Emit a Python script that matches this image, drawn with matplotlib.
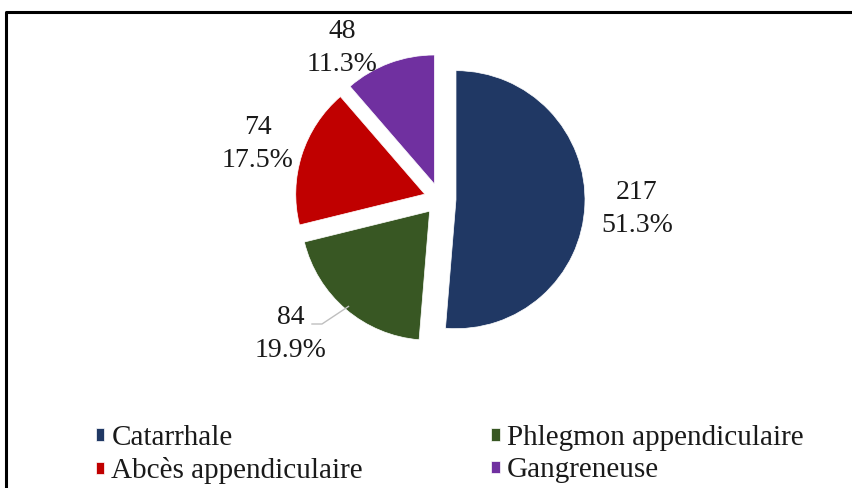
import numpy as np
import matplotlib.pyplot as plt
from matplotlib.lines import Line2D

# Data
categories = ["Catarrhale", "Phlegmon appendiculaire", "Abcès appendiculaire", "Gangreneuse"]
counts = [217, 84, 74, 48]
colors = ["#203864", "#385723", "#C00000", "#7030A0"]

W, H = 853, 488
plt.rcParams['font.family'] = ['Liberation Serif', 'DejaVu Serif']

fig = plt.figure(figsize=(W / 100, H / 100), dpi=100)
ax = fig.add_axes([0, 0, 1, 1])

# pie, center given in pixel-like units (y up); explode is in the same units
cx, cy, R = 440, H - 199, 129
total = sum(counts)
wedges, _ = ax.pie(counts, colors=colors, startangle=90, counterclock=False,
                   center=(cx, cy), radius=R, explode=[16] * len(counts),
                   wedgeprops=dict(linewidth=0.5, edgecolor='white'))
ax.set_xlim(0, W)
ax.set_ylim(0, H)
ax.set_aspect('equal')
ax.axis('off')

# data labels (image coords of label centres)
label_pos = [(637, 209), (291, 334), (258, 144), (342, 48)]
for n, (lx, ly) in zip(counts, label_pos):
    ax.text(lx, H - ly, "{}\n{:.1f}%".format(n, 100 * n / total), ha='center', va='center',
            fontsize=20, color='#1a1a1a', linespacing=1.4)

# leader line for the Phlegmon label
w = wedges[1]
mid = np.deg2rad((w.theta1 + w.theta2) / 2)
ex, ey = w.center[0] + w.r * 0.97 * np.cos(mid), w.center[1] + w.r * 0.97 * np.sin(mid)
ax.plot([312, 322, ex], [H - 324, H - 324, ey], color='#bfbfbf', lw=1)

# legend, row-major order like the original
order = [0, 2, 1, 3]
leg = ax.legend([wedges[i] for i in order], [categories[i] for i in order], ncol=2,
                loc='upper left', bbox_to_anchor=(96 / W, 1 - 425 / H),
                bbox_transform=fig.transFigure, frameon=False, fontsize=21,
                handlelength=0.28, handleheight=0.28, handletextpad=0.25,
                labelspacing=0.22, columnspacing=4.4, borderpad=0, borderaxespad=0)
for t in leg.get_texts():
    t.set_color('#1a1a1a')

# outer frame (top and left only visible)
fy = 1 - 12 / H
fx = 6 / W
fig.add_artist(Line2D([fx, fx, 1], [0, fy, fy], transform=fig.transFigure, color='black', lw=2.2))

fig.savefig('out.png', dpi=100)
